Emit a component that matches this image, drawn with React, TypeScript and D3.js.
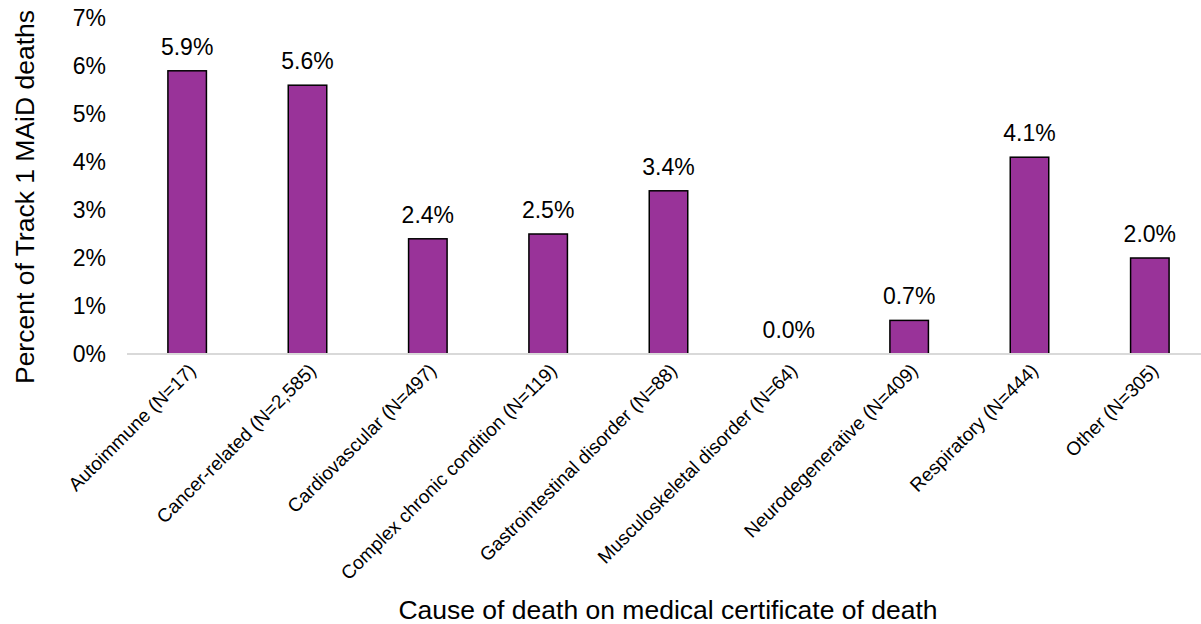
import React from "react";
import * as d3 from "d3";

const categories = [
  "Autoimmune (N=17)",
  "Cancer-related (N=2,585)",
  "Cardiovascular (N=497)",
  "Complex chronic condition (N=119)",
  "Gastrointestinal disorder (N=88)",
  "Musculoskeletal disorder (N=64)",
  "Neurodegenerative (N=409)",
  "Respiratory (N=444)",
  "Other (N=305)",
];
const percentages = [5.9, 5.6, 2.4, 2.5, 3.4, 0.0, 0.7, 4.1, 2.0];
const yTicks = [0, 1, 2, 3, 4, 5, 6, 7];

const W = 1201;
const H = 624;
const FONT = "'Liberation Sans', Arial, sans-serif";

export default function App() {
  const x = d3
    .scaleBand<string>()
    .domain(categories)
    .range([127, 1210])
    .paddingInner(0.68)
    .paddingOuter(0.34);
  const y = d3.scaleLinear().domain([0, 7]).range([354, 18]);

  return (
    <svg
      width={W}
      height={H}
      style={{ position: "absolute", left: 0, top: 0, background: "#fff" }}
      fontFamily={FONT}
    >
      {/* y tick labels */}
      {yTicks.map((t) => (
        <text
          key={t}
          x={106}
          y={y(t)}
          dy="0.35em"
          textAnchor="end"
          fontSize={23}
          fill="#000"
        >
          {`${t}%`}
        </text>
      ))}

      {/* bars */}
      {categories.map((c, i) => (
        <rect
          key={c}
          x={x(c)!}
          y={y(percentages[i])}
          width={x.bandwidth()}
          height={y(0) - y(percentages[i])}
          fill="#993399"
          stroke="#000"
          strokeWidth={1.5}
        />
      ))}

      {/* baseline */}
      <line x1={127} x2={1201} y1={y(0)} y2={y(0)} stroke="#d9d9d9" strokeWidth={2} />

      {/* value labels */}
      {categories.map((c, i) => (
        <text
          key={c}
          x={x(c)! + x.bandwidth() / 2}
          y={y(percentages[i]) - 16}
          textAnchor="middle"
          fontSize={23}
          fill="#000"
        >
          {`${percentages[i].toFixed(1)}%`}
        </text>
      ))}

      {/* category labels */}
      {categories.map((c) => {
        const cx = x(c)! + x.bandwidth() / 2 + 5;
        const cy = 367;
        return (
          <text
            key={c}
            transform={`translate(${cx},${cy}) rotate(-45)`}
            textAnchor="end"
            dy="0.35em"
            fontSize={19}
            fill="#000"
          >
            {c}
          </text>
        );
      })}

      {/* axis titles */}
      <text
        x={668}
        y={619}
        textAnchor="middle"
        fontSize={26.5}
        fill="#000"
      >
        Cause of death on medical certificate of death
      </text>
      <text
        transform={`translate(34,197) rotate(-90)`}
        textAnchor="middle"
        fontSize={26.5}
        fill="#000"
      >
        Percent of Track 1 MAiD deaths
      </text>
    </svg>
  );
}
